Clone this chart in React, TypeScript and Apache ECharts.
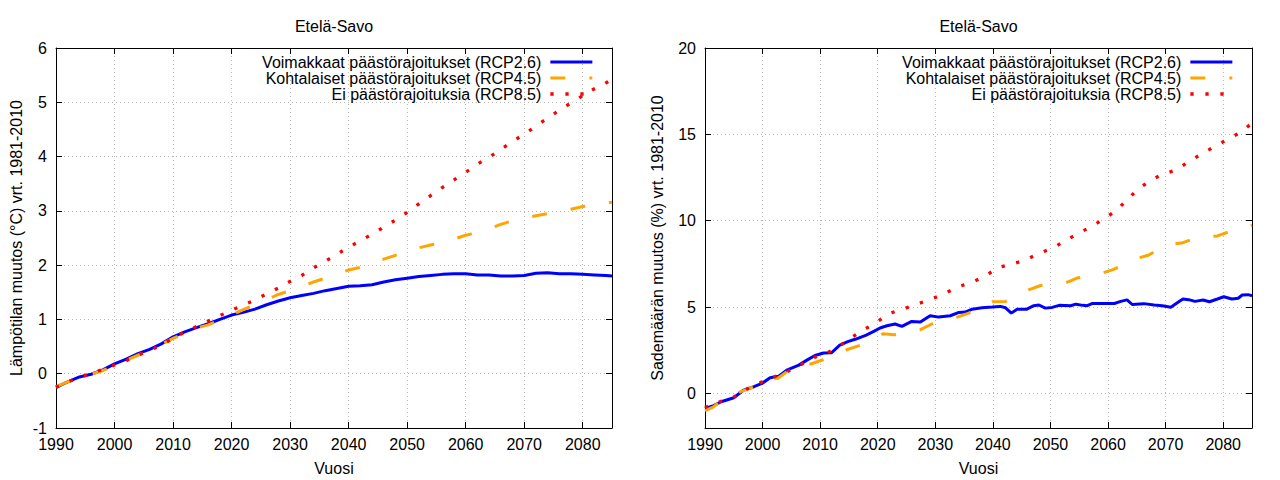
import React, { useEffect, useRef } from "react";
import * as echarts from "echarts";

const FONT = '"Liberation Sans", Arial, Helvetica, sans-serif';

const chartTitle = "Etelä-Savo";
const xName = "Vuosi";
const tempYName = "Lämpötilan muutos (°C) vrt. 1981-2010";
const precYName = "Sademäärän muutos (%) vrt. 1981-2010";
const seriesNames = [
  "Voimakkaat päästörajoitukset (RCP2.6)",
  "Kohtalaiset päästörajoitukset (RCP4.5)",
  "Ei päästörajoituksia (RCP8.5)",
];

const decadeTicks = [1990, 2000, 2010, 2020, 2030, 2040, 2050, 2060, 2070, 2080];
const tempTicks = [-1, 0, 1, 2, 3, 4, 5, 6];
const precTicks = [0, 5, 10, 15, 20];

// Temperature change (°C)
const tempYears = [
  1990, 1992, 1994, 1996, 1998, 2000, 2002, 2004, 2006, 2008, 2010, 2012, 2014, 2016, 2018, 2020,
  2022, 2024, 2026, 2028, 2030, 2032, 2034, 2036, 2038, 2040, 2042, 2044, 2046, 2048, 2050, 2052,
  2054, 2056, 2058, 2060, 2062, 2064, 2066, 2068, 2070, 2072, 2074, 2076, 2078, 2080, 2082, 2084, 2085,
];
const temp26 = [
  -0.25, -0.15, -0.06, -0.01, 0.07, 0.18, 0.27, 0.37, 0.45, 0.55, 0.68, 0.77, 0.85, 0.92, 1.0, 1.08,
  1.13, 1.19, 1.27, 1.34, 1.4, 1.44, 1.48, 1.53, 1.57, 1.61, 1.62, 1.64, 1.69, 1.73, 1.76, 1.79,
  1.81, 1.83, 1.84, 1.84, 1.82, 1.82, 1.8, 1.8, 1.81, 1.85, 1.86, 1.84, 1.84, 1.83, 1.82, 1.81, 1.8,
];
const temp45 = [
  -0.24, -0.15, -0.07, -0.01, 0.06, 0.15, 0.25, 0.34, 0.43, 0.54, 0.65, 0.75, 0.84, 0.9, 0.99, 1.08,
  1.18, 1.27, 1.36, 1.46, 1.53, 1.61, 1.69, 1.76, 1.84, 1.91, 1.96, 2.03, 2.11, 2.18, 2.25, 2.32,
  2.37, 2.42, 2.48, 2.55, 2.6, 2.67, 2.75, 2.82, 2.87, 2.91, 2.95, 2.99, 3.03, 3.08, 3.1, 3.14, 3.16,
];
const temp85 = [
  -0.25, -0.15, -0.07, 0.01, 0.08, 0.16, 0.24, 0.34, 0.43, 0.53, 0.65, 0.77, 0.87, 0.97, 1.07, 1.17,
  1.26, 1.36, 1.47, 1.58, 1.7, 1.81, 1.95, 2.07, 2.2, 2.33, 2.45, 2.57, 2.7, 2.83, 2.97, 3.13,
  3.28, 3.43, 3.57, 3.71, 3.86, 3.99, 4.13, 4.28, 4.41, 4.56, 4.71, 4.85, 4.99, 5.12, 5.25, 5.36, 5.42,
];

// Precipitation change (%)
const prec26Years = [
  1990, 1991.5, 1992.8, 1995, 1996.7, 1998.5, 1999.9, 2001.3, 2002.8, 2004.2, 2006.3, 2007.7, 2009.1,
  2010.6, 2012, 2013.4, 2014.8, 2016.2, 2018, 2019.4, 2020.4, 2021.6, 2023, 2024.2, 2025.9, 2027.4,
  2029.1, 2030.6, 2032.6, 2034.1, 2035.2, 2036.4, 2038.1, 2039.9, 2041.3, 2042.2, 2043.2, 2044.2,
  2045.9, 2047.1, 2048, 2049.1, 2050.3, 2051.5, 2053.5, 2054.4, 2055.6, 2056.4, 2057.3, 2061.1,
  2062.2, 2063.3, 2064.2, 2066.2, 2068, 2069.4, 2070.9, 2071.9, 2073, 2074, 2075.1, 2076.5, 2077.6,
  2079, 2080.1, 2081.5, 2082.6, 2083.3, 2084.3, 2085,
];
const prec26 = [
  -0.87, -0.7, -0.48, -0.25, 0.19, 0.39, 0.58, 0.91, 1.0, 1.35, 1.64, 1.93, 2.2, 2.34, 2.36, 2.8, 3.0,
  3.15, 3.38, 3.61, 3.79, 3.92, 4.02, 3.88, 4.17, 4.13, 4.5, 4.42, 4.5, 4.69, 4.71, 4.88, 4.96, 5.0,
  5.04, 4.96, 4.65, 4.88, 4.88, 5.08, 5.12, 4.94, 4.98, 5.1, 5.08, 5.17, 5.1, 5.08, 5.21, 5.21, 5.33,
  5.42, 5.15, 5.2, 5.12, 5.08, 4.99, 5.22, 5.47, 5.43, 5.33, 5.41, 5.31, 5.47, 5.6, 5.47, 5.51, 5.7,
  5.72, 5.66,
];
const prec45Years = [
  1990, 1991.4, 1992.5, 1994.8, 1996, 1997.5, 1999.5, 2001.2, 2002.6, 2004.1, 2006, 2008.5, 2010.5,
  2012.5, 2014.6, 2016.9, 2018.8, 2020.9, 2022.9, 2025, 2027.4, 2029.4, 2031.5, 2033.8, 2035.8,
  2037.8, 2039.9, 2042.2, 2044.2, 2046.2, 2048.3, 2050.5, 2052.6, 2054.6, 2056.8, 2059, 2061.1, 2063,
  2065.1, 2067, 2068.5, 2070.1, 2073, 2075.5, 2079, 2081.1, 2083, 2085,
];
const prec45 = [
  -0.99, -0.79, -0.5, -0.25, 0.08, 0.27, 0.5, 0.95, 0.87, 1.23, 1.5, 1.72, 1.95, 2.25, 2.53, 2.78,
  3.05, 3.45, 3.4, 3.5, 3.69, 4.02, 4.25, 4.42, 4.65, 5.0, 5.31, 5.33, 5.65, 6.0, 6.25, 6.3, 6.39,
  6.68, 6.8, 6.97, 7.2, 7.5, 7.83, 8.0, 8.3, 8.6, 8.73, 9.04, 9.12, 9.37, 9.55, 9.74,
];
const prec85Years = [
  1990, 1992.6, 1995.1, 1997.2, 1999.7, 2002.1, 2004.4, 2006.7, 2009, 2011.3, 2013.4, 2015.5, 2017.7,
  2019.9, 2022.1, 2024.4, 2026.9, 2029.4, 2031.7, 2034, 2036.3, 2038.7, 2040.9, 2043.2, 2045.7, 2048,
  2050.4, 2052.6, 2054.9, 2057.1, 2059.4, 2061.5, 2063.3, 2065.2, 2067.3, 2069.6, 2071.9, 2074,
  2076.3, 2078.5, 2080.8, 2083, 2085,
];
const prec85 = [
  -0.81, -0.48, -0.19, 0.25, 0.64, 0.97, 1.29, 1.68, 2.09, 2.36, 2.76, 3.25, 3.71, 4.15, 4.64, 4.89,
  5.18, 5.47, 5.8, 6.18, 6.43, 6.8, 7.3, 7.48, 7.73, 8.12, 8.41, 8.85, 9.28, 9.66, 10.13, 10.61,
  11.21, 11.83, 12.31, 12.72, 12.93, 13.43, 13.87, 14.3, 14.72, 15.11, 15.65,
];

const COLORS = ["#0000ff", "#ffa500", "#ff0000"];
const LINE_TYPES: any[] = ["solid", [15, 24], [3.3, 11.7]];
const LINE_WIDTHS = [3, 3, 3.3];

const zip = (xs: number[], ys: number[]) => xs.map((x, i) => [x, ys[i]]);

const textStyle = { fontFamily: FONT, fontSize: 16, color: "#000" };
const plain = (v: number) => String(v);

function makeX(gridIndex: number, top: boolean) {
  return {
    type: "value",
    gridIndex,
    min: 1990,
    max: 2085,
    interval: 10,
    position: top ? "top" : "bottom",
    axisLine: { show: true, onZero: false, lineStyle: { color: "#000", width: 1 } },
    axisTick: { show: true, inside: true, length: 6, lineStyle: { color: "#000", width: 1 }, customValues: decadeTicks },
    axisLabel: top
      ? { show: false }
      : { show: true, customValues: decadeTicks, margin: 8, formatter: plain, ...textStyle },
    splitLine: top ? { show: false } : { show: true, lineStyle: { color: "#bbbbbb", width: 1, type: [1, 3] } },
    name: top ? "" : xName,
    nameLocation: "middle",
    nameGap: 32,
    nameTextStyle: textStyle,
  };
}

function makeY(gridIndex: number, right: boolean, min: number, max: number, ticks: number[], name: string, gap: number) {
  return {
    type: "value",
    gridIndex,
    min,
    max,
    position: right ? "right" : "left",
    axisLine: { show: true, onZero: false, lineStyle: { color: "#000", width: 1 } },
    axisTick: { show: true, inside: true, length: 6, lineStyle: { color: "#000", width: 1 }, customValues: ticks },
    axisLabel: right ? { show: false } : { show: true, customValues: ticks, margin: 9, formatter: plain, ...textStyle },
    splitLine: right ? { show: false } : { show: true, lineStyle: { color: "#bbbbbb", width: 1, type: [1, 3] } },
    name: right ? "" : name,
    nameLocation: "middle",
    nameGap: gap,
    nameTextStyle: textStyle,
  };
}

function makeSeries(idx: number, data: number[][], xi: number, yi: number) {
  return {
    type: "line",
    name: seriesNames[idx],
    data,
    xAxisIndex: xi,
    yAxisIndex: yi,
    symbol: "none",
    showSymbol: false,
    smooth: false,
    lineStyle: { color: COLORS[idx], width: LINE_WIDTHS[idx], type: LINE_TYPES[idx], cap: "butt" },
    itemStyle: { color: COLORS[idx] },
    z: 2 + idx,
  };
}

function makeLegend(right: number) {
  return {
    data: seriesNames,
    orient: "vertical",
    right,
    top: 54,
    align: "right",
    itemWidth: 42,
    itemHeight: 16,
    itemGap: 0,
    padding: 0,
    selectedMode: false,
    itemStyle: { opacity: 0, borderWidth: 0 },
    lineStyle: { width: "inherit", type: "inherit" },
    textStyle: { ...textStyle, lineHeight: 16, padding: [0, 4, 0, 0] },
  };
}

export default function App() {
  const ref = useRef<HTMLDivElement>(null);
  useEffect(() => {
    if (!ref.current) return;
    const chart = echarts.init(ref.current, null, { renderer: "svg" });
    const option: any = {
      animation: false,
      backgroundColor: "#ffffff",
      grid: [
        { left: 56, top: 48, width: 556, height: 380, outerBoundsMode: "none" },
        { left: 705, top: 48, width: 547, height: 380, outerBoundsMode: "none" },
      ],
      xAxis: [makeX(0, false), makeX(0, true), makeX(1, false), makeX(1, true)],
      yAxis: [
        makeY(0, false, -1, 6, tempTicks, tempYName, 32),
        makeY(0, true, -1, 6, tempTicks, "", 0),
        makeY(1, false, -2, 20, precTicks, precYName, 40),
        makeY(1, true, -2, 20, precTicks, "", 0),
      ],
      legend: [makeLegend(1280 - 594), makeLegend(1280 - 1234)],
      graphic: [
        { type: "text", x: 334, y: 26, style: { text: chartTitle, textAlign: "center", textVerticalAlign: "middle", font: `16px ${FONT}`, fill: "#000" } },
        { type: "text", x: 978.5, y: 26, style: { text: chartTitle, textAlign: "center", textVerticalAlign: "middle", font: `16px ${FONT}`, fill: "#000" } },
      ],
      series: [
        makeSeries(0, zip(tempYears, temp26), 0, 0),
        makeSeries(1, zip(tempYears, temp45), 0, 0),
        makeSeries(2, zip(tempYears, temp85), 0, 0),
        makeSeries(0, zip(prec26Years, prec26), 2, 2),
        makeSeries(1, zip(prec45Years, prec45), 2, 2),
        makeSeries(2, zip(prec85Years, prec85), 2, 2),
      ],
    };
    chart.setOption(option);
    return () => chart.dispose();
  }, []);
  return <div ref={ref} style={{ position: "absolute", left: 0, top: 0, width: 1280, height: 480 }} />;
}
